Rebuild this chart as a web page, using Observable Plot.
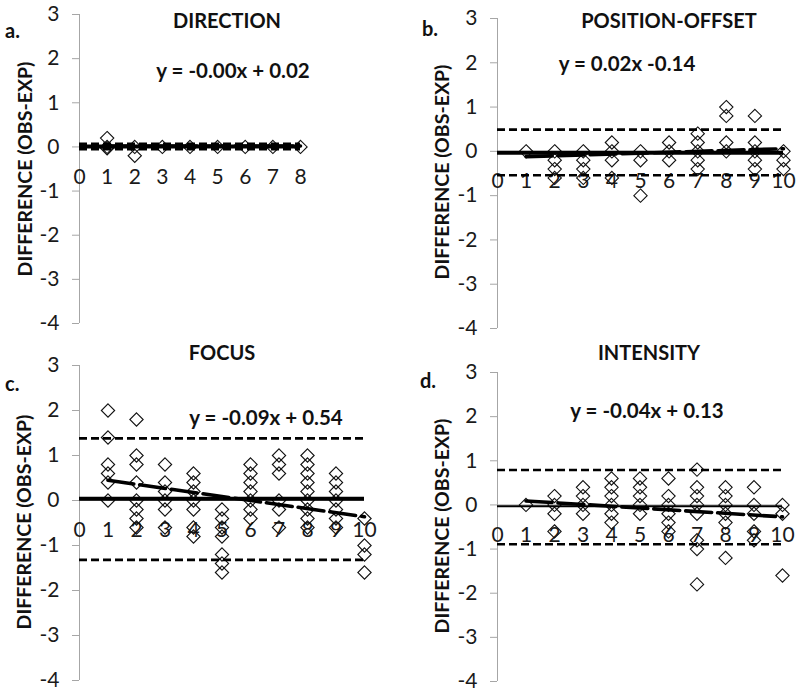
<!DOCTYPE html>
<html>
<head>
<meta charset="utf-8">
<script src="https://cdn.jsdelivr.net/npm/d3@7"></script>
<script src="https://cdn.jsdelivr.net/npm/@observablehq/plot@0.6"></script>
<style>
  html, body { margin: 0; padding: 0; background: #fff; }
  #wrap { position: relative; width: 800px; height: 693px; font-family: Lato, "Open Sans", sans-serif; color: #111; overflow: hidden; }
  #wrap svg { position: absolute; }
  .lbl { position: absolute; font-weight: bold; white-space: nowrap; line-height: 1; }
  .ttl { font-size: 20px; transform: translate(-50%, 0); }
  .eq { font-size: 20.5px; transform: translate(-50%, 0); }
  .let { font-size: 20px; }
  .ylab { font-size: 19.5px; transform: translate(-50%, -50%) rotate(-90deg); }
</style>
</head>
<body>
<div id="wrap"></div>
<script>
// ---- data ----
const panelTitles = ["DIRECTION", "POSITION-OFFSET", "FOCUS", "INTENSITY"];
const panelLetters = ["a.", "b.", "c.", "d."];
const equations = ["y = -0.00x + 0.02", "y = 0.02x -0.14", "y = -0.09x + 0.54", "y = -0.04x + 0.13"];
const yTicks = [-4, -3, -2, -1, 0, 1, 2, 3];
const xMaxes = [8, 10, 10, 10];

// differences per x category (index 0 -> x = 1)
const directionValues = [[0.2, 0, -0.03], [0, -0.2], [0], [0], [0], [0], [0], [0]];
const positionValues = [
  [0], [0, -0.2, -0.4, -0.6], [0, -0.2, -0.4, -0.6], [0.2, 0, -0.2, -0.6], [0, -0.2, -1.0],
  [0.2, 0, -0.2], [0.4, 0.2, 0, -0.2, -0.4], [1.0, 0.8, 0.2, 0], [0.8, 0.2, 0, -0.2, -0.4], [0, -0.2, -0.4]
];
const focusValues = [
  [2.0, 1.4, 0.8, 0.6, 0.4, 0], [1.8, 1.0, 0.8, 0.4, 0, -0.2, -0.4, -0.6], [0.8, 0.4, 0.2, 0, -0.2, -0.6],
  [0.6, 0.4, 0.2, 0, -0.2, -0.6, -0.8], [-0.2, -0.4, -0.6, -0.8, -1.2, -1.4, -1.6],
  [0.8, 0.6, 0.4, 0.2, 0, -0.2, -0.4], [1.0, 0.8, 0.6, 0, -0.2, -0.6],
  [1.0, 0.8, 0.6, 0.4, 0.2, 0, -0.2, -0.4, -0.6], [0.6, 0.4, 0.2, 0, -0.2, -0.4, -0.6], [-0.4, -1.0, -1.2, -1.6]
];
const intensityValues = [
  [0], [0.2, 0, -0.2, -0.6], [0.4, 0.2, 0, -0.2], [0.6, 0.4, 0.2, 0, -0.2, -0.4], [0.6, 0.4, 0.2, 0, -0.2],
  [0.6, 0.2, 0, -0.2, -0.4, -0.6], [0.8, 0.4, 0.2, 0, -0.2, -0.8, -1.0, -1.8], [0.4, 0.2, 0, -0.2, -0.4, -1.2],
  [0.4, 0, -0.2, -0.6, -0.8], [0, -0.2, -1.6]
];
const meanDiffs = [0.01, -0.03, 0.04, -0.03];
const upperLimits = [0.07, 0.49, 1.38, 0.79];
const lowerLimits = [-0.05, -0.54, -1.32, -0.89];
const trendStart = [0.02, -0.12, 0.45, 0.09];   // trend value at x = 1
const trendEnd = [0.02, 0.06, -0.36, -0.27];    // trend value at x = xMax

// ---- layout ----
const layouts = [
  {left: 0, top: 0, width: 400, height: 340, mL: 79, mR: 100, mT: 14, mB: 17, meanW: 4},
  {left: 400, top: 0, width: 400, height: 340, mL: 97, mR: 17, mT: 18, mB: 12, meanW: 4},
  {left: 0, top: 340, width: 400, height: 353, mL: 79, mR: 36, mT: 25, mB: 13, meanW: 4},
  {left: 400, top: 340, width: 400, height: 353, mL: 97, mR: 18, mT: 32, mB: 12, meanW: 2.2}
];
const textPos = [
  {title: [227, 10], letter: [5, 20], eq: [233, 60], ylab: [25, 169]},
  {title: [669, 10], letter: [422, 18], eq: [627, 53], ylab: [442, 172]},
  {title: [222, 342], letter: [5, 373], eq: [266, 407], ylab: [24, 522]},
  {title: [649, 342], letter: [420, 370], eq: [647, 400], ylab: [442, 526]}
];

const allValues = [directionValues, positionValues, focusValues, intensityValues];
const wrap = document.getElementById("wrap");
const gray = "#a6a6a6";

allValues.forEach((vals, i) => {
  const L = layouts[i];
  const xMax = xMaxes[i];
  const xTicks = d3.range(0, xMax + 1);
  const points = vals.flatMap((arr, k) => arr.map(v => ({x: k + 1, y: v})));
  const trend = [{x: 1, y: trendStart[i]}, {x: xMax, y: trendEnd[i]}];
  const chart = Plot.plot({
    width: L.width, height: L.height,
    marginLeft: L.mL, marginRight: L.mR, marginTop: L.mT, marginBottom: L.mB,
    style: {fontFamily: "Lato, 'Open Sans', sans-serif", background: "transparent", overflow: "visible"},
    x: {domain: [0, xMax], axis: null},
    y: {domain: [-4, 3], axis: null},
    marks: [
      Plot.ruleX([0], {stroke: gray, strokeWidth: 1}),
      Plot.axisY({ticks: yTicks, label: null, tickSize: 7, tickPadding: 13, fontSize: 21, stroke: gray, fill: "#1a1a1a", tickFormat: d => d < 0 ? "-" + Math.abs(d) : String(d)}),
      Plot.ruleY([0], {stroke: gray, strokeWidth: 1}),
      Plot.text(xTicks, {x: d => d, y: () => 0, dy: 30, fontSize: 21, fill: "#1a1a1a", text: d => String(d)}),
      Plot.dot(points, {x: "x", y: "y", symbol: "diamond2", r: 6, stroke: "#111", strokeWidth: 1.1, fill: "none"}),
      Plot.ruleY([upperLimits[i], lowerLimits[i]], {stroke: "#000", strokeWidth: 2.6, strokeDasharray: "8,4"}),
      Plot.ruleY([meanDiffs[i]], {stroke: "#000", strokeWidth: L.meanW}),
      Plot.line(trend, {x: "x", y: "y", stroke: "#000", strokeWidth: 3.6, strokeDasharray: "26,6"})
    ]
  });
  chart.style.left = L.left + "px";
  chart.style.top = L.top + "px";
  wrap.appendChild(chart);

  const P = textPos[i];
  const add = (cls, txt, [x, y]) => {
    const d = document.createElement("div");
    d.className = "lbl " + cls;
    d.textContent = txt;
    d.style.left = x + "px";
    d.style.top = y + "px";
    wrap.appendChild(d);
  };
  add("ttl", panelTitles[i], P.title);
  add("let", panelLetters[i], P.letter);
  add("eq", equations[i], P.eq);
  add("ylab", "DIFFERENCE (OBS-EXP)", P.ylab);
});
</script>
</body>
</html>
